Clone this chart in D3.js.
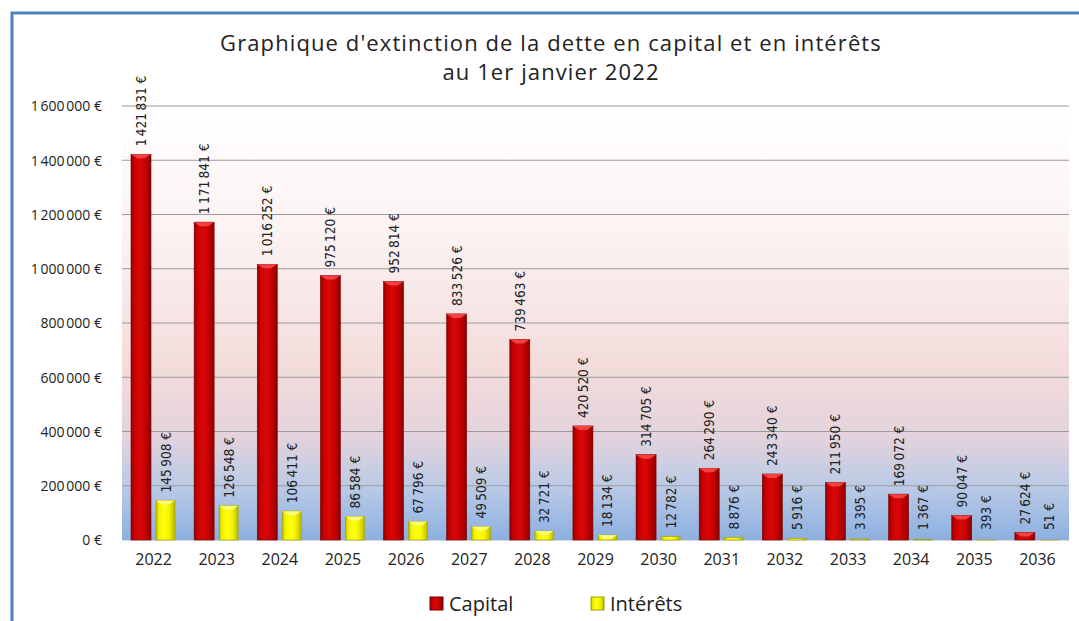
<!DOCTYPE html>
<html>
<head>
<meta charset="utf-8">
<script src="https://cdn.jsdelivr.net/npm/d3@7"></script>
<style>
  body { margin: 0; background: #fff; }
  text { font-family: "Open Sans", "DejaVu Sans", sans-serif; fill: #222; }
  .lbl { font-family: "Liberation Sans Narrow", "DejaVu Sans Condensed", sans-serif; font-size: 13.5px; }
</style>
</head>
<body>
<div id="chart"></div>
<script>
const years = ["2022", "2023", "2024", "2025", "2026", "2027", "2028", "2029", "2030", "2031", "2032", "2033", "2034", "2035", "2036"];
const capital = [1421831, 1171841, 1016252, 975120, 952814, 833526, 739463, 420520, 314705, 264290, 243340, 211950, 169072, 90047, 27624];
const interets = [145908, 126548, 106411, 86584, 67796, 49509, 32721, 18134, 12782, 8876, 5916, 3395, 1367, 393, 51];
const yTicks = [0, 200000, 400000, 600000, 800000, 1000000, 1200000, 1400000, 1600000];
const seriesNames = ["Capital", "Intérêts"];

const width = 1079, height = 621;
const margin = { left: 122, right: 10, top: 106, bottom: 81 };

const fr = d3.formatLocale({ decimal: ",", thousands: "\u202f", grouping: [3], currency: ["", " €"] });
const money = v => fr.format(",")(v) + " €";

const svg = d3.select("#chart").append("svg")
  .attr("width", width).attr("height", height);

const defs = svg.append("defs");

const bg = defs.append("linearGradient").attr("id", "bg")
  .attr("x1", 0).attr("y1", 0).attr("x2", 0).attr("y2", 1);
[[0, "#ffffff"], [0.3, "#fcf2f2"], [0.6, "#f3dcdb"], [0.76, "#e4d3dc"], [0.88, "#b9cae6"], [1, "#8cb0e0"]]
  .forEach(([o, c]) => bg.append("stop").attr("offset", o).attr("stop-color", c));

function barGrad(id, edge, mid, hi) {
  const g = defs.append("linearGradient").attr("id", id)
    .attr("x1", 0).attr("y1", 0).attr("x2", 1).attr("y2", 0);
  [[0, edge], [0.15, mid], [0.45, hi], [0.7, mid], [1, edge]]
    .forEach(([o, c]) => g.append("stop").attr("offset", o).attr("stop-color", c));
}
barGrad("gCap", "#8a0000", "#c80000", "#d80808");
barGrad("gInt", "#b8b800", "#f2f200", "#ffff10");

const x = d3.scaleBand().domain(years)
  .range([margin.left, width - margin.right]);
const y = d3.scaleLinear().domain([0, 1600000])
  .range([height - margin.bottom, margin.top]);

// frame
svg.append("path")
  .attr("d", `M12,${height} V13 H${width}`)
  .attr("fill", "none").attr("stroke", "#4f81bd").attr("stroke-width", 3);

// plot background
svg.append("rect")
  .attr("x", margin.left).attr("y", y(1600000))
  .attr("width", x.range()[1] - margin.left)
  .attr("height", y(0) - y(1600000))
  .attr("fill", "url(#bg)");

// gridlines
svg.append("g").selectAll("line").data(yTicks.slice(1)).join("line")
  .attr("x1", margin.left).attr("x2", x.range()[1])
  .attr("y1", d => y(d)).attr("y2", d => y(d))
  .attr("stroke", "#9a9a9a").attr("stroke-width", 1.2);

// y axis
const yAxis = svg.append("g")
  .attr("transform", `translate(${margin.left - 17},0)`)
  .call(d3.axisLeft(y).tickValues(yTicks).tickFormat(money).tickSize(0));
yAxis.select(".domain").remove();
yAxis.selectAll("text").style("font-size", "14px").style("fill", "#222")
  .style("font-family", "'Open Sans', sans-serif").attr("dy", "0.35em");

// x axis
const xAxis = svg.append("g")
  .attr("transform", `translate(0,${y(0)})`)
  .call(d3.axisBottom(x).tickSize(0).tickPadding(14));
xAxis.select(".domain").attr("stroke", "#d8d8d8");
xAxis.selectAll("text").style("font-size", "16px").style("fill", "#222")
  .style("font-family", "'Open Sans', sans-serif");

const capOff = 9, capW = 20, intOff = 34, intW = 19;

const rows = years.map((yr, i) => ({ yr, cap: capital[i], int: interets[i] }));

function drawSeries(key, off, w, fill, stroke, top) {
  const g = svg.append("g");
  g.selectAll("rect.bar").data(rows).join("rect")
    .attr("class", "bar")
    .attr("x", d => x(d.yr) + off).attr("width", w)
    .attr("y", d => y(d[key])).attr("height", d => y(0) - y(d[key]))
    .attr("fill", fill).attr("stroke", stroke).attr("stroke-width", 0.6);
  g.selectAll("path.bevel").data(rows.filter(d => y(0) - y(d[key]) > 4)).join("path")
    .attr("class", "bevel")
    .attr("d", d => {
      const x0 = x(d.yr) + off, y0 = y(d[key]);
      return `M${x0},${y0} H${x0 + w} L${x0 + w * 0.7},${y0 + 4} H${x0 + w * 0.3} Z`;
    })
    .attr("fill", top).attr("opacity", 0.8);
  g.selectAll("text").data(rows).join("text")
    .attr("class", "lbl")
    .attr("transform", d => `translate(${x(d.yr) + off + w / 2 + 5},${Math.min(y(d[key]), y(0) - 2) - 8}) rotate(-90)`)
    .text(d => money(d[key]));
}
drawSeries("cap", capOff, capW, "url(#gCap)", "#7a0000", "#ff5050");
drawSeries("int", intOff, intW, "url(#gInt)", "#a0a000", "#ffff90");

// title
svg.append("text").attr("x", 551).attr("y", 51).attr("text-anchor", "middle")
  .style("font-size", "22px").style("letter-spacing", "1.1px")
  .text("Graphique d'extinction de la dette en capital et en intérêts");
svg.append("text").attr("x", 551).attr("y", 80).attr("text-anchor", "middle")
  .style("font-size", "22px").style("letter-spacing", "1.1px")
  .text("au 1er janvier 2022");

// legend
const legend = svg.append("g");
[["url(#gCap)", "#7a0000", 430], ["url(#gInt)", "#a0a000", 591]].forEach(([f, s, lx], i) => {
  legend.append("rect").attr("x", lx).attr("y", 597).attr("width", 13).attr("height", 13)
    .attr("fill", f).attr("stroke", s);
  legend.append("text").attr("x", lx + 19).attr("y", 611)
    .style("font-size", "20px").text(seriesNames[i]);
});
</script>
</body>
</html>
